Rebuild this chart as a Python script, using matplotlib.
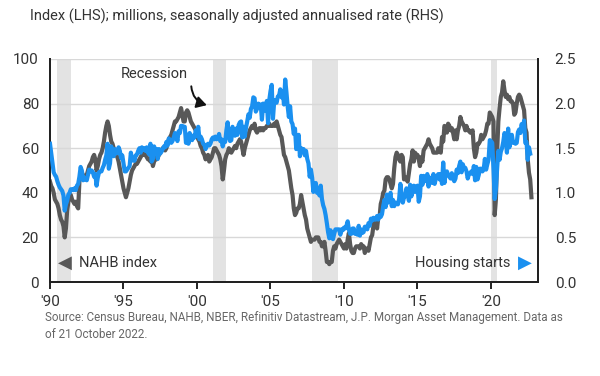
import numpy as np
import matplotlib
matplotlib.use("Agg")
import matplotlib.pyplot as plt
from matplotlib.patches import FancyArrowPatch

# ---------------- data ----------------
start_year = 1990
nahb = [
    45, 43, 42, 40, 37, 36, 35, 33, 30, 28, 27, 25,   # 1990
    20, 24, 32, 36, 38, 39, 37, 36, 35, 36, 34, 33,   # 1991
    45, 48, 49, 48, 47, 46, 48, 50, 52, 53, 54, 56,   # 1992
    57, 55, 50, 52, 55, 57, 58, 60, 63, 67, 70, 72,   # 1993
    70, 66, 63, 62, 60, 58, 57, 56, 54, 51, 48, 45,   # 1994
    42, 40, 38, 40, 42, 45, 48, 50, 51, 52, 53, 53,   # 1995
    54, 55, 56, 57, 58, 57, 57, 56, 55, 55, 54, 55,   # 1996
    52, 54, 56, 55, 56, 57, 58, 59, 60, 60, 59, 60,   # 1997
    62, 64, 65, 66, 68, 70, 72, 72, 73, 74, 76, 78,   # 1998
    75, 72, 72, 76, 77, 76, 74, 72, 71, 70, 69, 68,   # 1999
    66, 64, 63, 61, 60, 58, 57, 55, 56, 57, 54, 55,   # 2000
    56, 58, 60, 60, 59, 58, 57, 55, 52, 46, 50, 55,   # 2001
    57, 58, 60, 59, 58, 59, 60, 61, 60, 62, 63, 64,   # 2002
    63, 60, 57, 60, 62, 64, 66, 68, 69, 70, 69, 71,   # 2003
    68, 67, 68, 69, 68, 69, 68, 69, 69, 70, 70, 71,   # 2004
    70, 70, 70, 71, 70, 72, 70, 68, 66, 65, 61, 57,   # 2005
    56, 54, 52, 50, 46, 42, 39, 33, 30, 31, 33, 33,   # 2006
    35, 39, 36, 33, 30, 28, 24, 22, 20, 18, 19, 19,   # 2007
    19, 20, 20, 20, 18, 18, 16, 16, 18, 14, 9, 9,     # 2008
    8, 9, 9, 14, 16, 15, 17, 18, 19, 18, 17, 16,      # 2009
    15, 17, 15, 19, 22, 17, 14, 13, 13, 15, 16, 16,   # 2010
    16, 15, 17, 16, 16, 13, 15, 15, 14, 17, 20, 21,   # 2011
    25, 28, 28, 24, 29, 29, 35, 37, 40, 41, 46, 47,   # 2012
    47, 46, 44, 42, 44, 51, 56, 58, 57, 55, 54, 57,   # 2013
    56, 46, 47, 46, 45, 49, 53, 55, 59, 54, 58, 57,   # 2014
    57, 55, 52, 56, 54, 59, 60, 61, 62, 64, 62, 61,   # 2015
    60, 58, 58, 58, 58, 60, 59, 58, 65, 63, 70, 69,   # 2016
    67, 71, 70, 68, 69, 67, 64, 68, 64, 68, 70, 74,   # 2017
    72, 71, 70, 68, 70, 68, 68, 67, 67, 68, 60, 56,   # 2018
    58, 62, 62, 63, 66, 64, 65, 66, 68, 71, 71, 76,   # 2019
    75, 74, 72, 30, 37, 58, 72, 78, 83, 85, 90, 86,   # 2020
    83, 84, 82, 83, 81, 81, 80, 75, 76, 80, 83, 84,   # 2021
    83, 81, 79, 77, 69, 67, 55, 49, 46, 38,           # 2022
]
housing_starts = [
    1.55, 1.44, 1.32, 1.23, 1.20, 1.18, 1.13, 1.09, 1.06, 1.04, 1.02, 0.97,  # 1990
    0.80, 0.87, 0.91, 0.98, 1.00, 1.04, 1.04, 1.03, 1.05, 1.03, 1.08, 1.10,  # 1991
    1.18, 1.29, 1.25, 1.14, 1.17, 1.15, 1.14, 1.20, 1.26, 1.24, 1.25, 1.23,  # 1992
    1.18, 1.21, 1.08, 1.17, 1.23, 1.24, 1.24, 1.28, 1.31, 1.37, 1.42, 1.55,  # 1993
    1.27, 1.33, 1.52, 1.46, 1.41, 1.49, 1.44, 1.45, 1.51, 1.47, 1.39, 1.42,  # 1994
    1.33, 1.24, 1.24, 1.26, 1.28, 1.30, 1.45, 1.38, 1.36, 1.36, 1.42, 1.43,  # 1995
    1.47, 1.50, 1.45, 1.51, 1.48, 1.50, 1.47, 1.51, 1.45, 1.43, 1.55, 1.35,  # 1996
    1.38, 1.52, 1.46, 1.49, 1.38, 1.49, 1.44, 1.46, 1.49, 1.52, 1.51, 1.57,  # 1997
    1.53, 1.61, 1.58, 1.56, 1.58, 1.62, 1.67, 1.64, 1.58, 1.69, 1.67, 1.75,  # 1998
    1.75, 1.74, 1.74, 1.56, 1.65, 1.55, 1.67, 1.64, 1.59, 1.64, 1.62, 1.70,  # 1999
    1.64, 1.74, 1.60, 1.63, 1.60, 1.55, 1.54, 1.49, 1.53, 1.55, 1.53, 1.55,  # 2000
    1.60, 1.62, 1.60, 1.63, 1.60, 1.61, 1.66, 1.58, 1.60, 1.52, 1.59, 1.57,  # 2001
    1.70, 1.79, 1.64, 1.58, 1.59, 1.74, 1.66, 1.64, 1.72, 1.65, 1.76, 1.79,  # 2002
    1.80, 1.62, 1.74, 1.63, 1.73, 1.80, 1.88, 1.84, 1.94, 1.97, 2.07, 2.06,  # 2003
    1.91, 1.94, 2.00, 1.97, 1.99, 1.82, 2.00, 1.99, 1.92, 2.03, 1.78, 2.04,  # 2004
    2.14, 2.21, 1.83, 2.02, 2.04, 2.01, 2.08, 2.09, 2.16, 2.07, 2.14, 1.99,  # 2005
    2.27, 2.13, 1.97, 1.85, 1.97, 1.80, 1.77, 1.66, 1.72, 1.49, 1.57, 1.65,  # 2006
    1.41, 1.50, 1.49, 1.49, 1.42, 1.47, 1.38, 1.33, 1.18, 1.26, 1.17, 1.01,  # 2007
    1.07, 1.11, 1.00, 1.01, 0.97, 1.08, 0.93, 0.86, 0.82, 0.75, 0.66, 0.56,  # 2008
    0.49, 0.58, 0.52, 0.48, 0.54, 0.59, 0.59, 0.59, 0.59, 0.53, 0.59, 0.58,  # 2009
    0.61, 0.60, 0.63, 0.68, 0.59, 0.54, 0.54, 0.60, 0.60, 0.54, 0.55, 0.53,  # 2010
    0.63, 0.52, 0.59, 0.55, 0.56, 0.62, 0.62, 0.59, 0.66, 0.63, 0.71, 0.69,  # 2011
    0.72, 0.70, 0.70, 0.74, 0.70, 0.75, 0.73, 0.76, 0.85, 0.92, 0.84, 0.98,  # 2012
    0.89, 0.96, 1.00, 0.85, 0.92, 0.85, 0.89, 0.88, 0.87, 0.93, 1.10, 1.00,  # 2013
    0.89, 0.95, 0.96, 1.05, 0.98, 0.91, 1.09, 0.96, 1.03, 1.08, 1.01, 1.07,  # 2014
    1.08, 0.90, 0.96, 1.19, 1.09, 1.19, 1.15, 1.13, 1.21, 1.07, 1.17, 1.15,  # 2015
    1.11, 1.21, 1.10, 1.16, 1.19, 1.21, 1.15, 1.21, 1.10, 1.34, 1.11, 1.22,  # 2016
    1.24, 1.20, 1.18, 1.16, 1.22, 1.16, 1.13, 1.16, 1.26, 1.22, 1.30, 1.35,  # 2017
    1.23, 1.32, 1.27, 1.28, 1.24, 1.16, 1.21, 1.22, 1.24, 1.21, 1.30, 1.14,  # 2018
    1.29, 1.15, 1.20, 1.27, 1.27, 1.24, 1.26, 1.38, 1.26, 1.32, 1.37, 1.59,  # 2019
    1.58, 1.56, 1.28, 0.93, 1.04, 1.27, 1.47, 1.37, 1.46, 1.50, 1.57, 1.67,  # 2020
    1.63, 1.45, 1.72, 1.51, 1.59, 1.65, 1.56, 1.57, 1.55, 1.56, 1.68, 1.71,  # 2021
    1.67, 1.77, 1.72, 1.81, 1.56, 1.57, 1.37, 1.51, 1.44,                    # 2022
]
recessions = [(1990.45, 1991.4), (2001.1, 2002.0), (2007.8, 2009.6), (2020.0, 2020.4)]
x_ticks = [1990, 1995, 2000, 2005, 2010, 2015, 2020]
x_tick_labels = ["'90", "'95", "'00", "'05", "'10", "'15", "'20"]
left_ticks = [0, 20, 40, 60, 80, 100]
right_ticks = [0.0, 0.5, 1.0, 1.5, 2.0, 2.5]

t_nahb = start_year + np.arange(len(nahb)) / 12.0
t_hs = start_year + np.arange(len(housing_starts)) / 12.0

# ---------------- style ----------------
FONT = ["Roboto", "DejaVu Sans"]
plt.rcParams["font.family"] = FONT
GRAY = "#585858"
BLUE = "#1a90f0"
TXT = "#333333"

fig = plt.figure(figsize=(6.0, 3.76), dpi=100)
fig.patch.set_facecolor("white")
ax = fig.add_axes([50 / 600, 1 - 282 / 376, 488 / 600, 223 / 376])
ax2 = ax.twinx()

for a, b in recessions:
    ax.axvspan(a, b, color="#e3e3e3", lw=0, zorder=0)

ax.set_xlim(1990, 1990 + 488 / 14.7)
ax.set_ylim(0, 100)
ax2.set_ylim(0, 2.5)
ax.set_yticks(left_ticks)
ax2.set_yticks(right_ticks)
ax2.set_yticklabels([f"{v:.1f}" for v in right_ticks])
ax.set_xticks(x_ticks)
ax.set_xticklabels(x_tick_labels)
ax.yaxis.grid(True, color="#d8d8d8", lw=1.0, zorder=0)
ax.set_axisbelow(True)

ax.plot(t_nahb, nahb, color=GRAY, lw=3.0, solid_joinstyle="round", zorder=3)
ax2.plot(t_hs, housing_starts, color=BLUE, lw=3.0, solid_joinstyle="round", zorder=3)

for a in (ax, ax2):
    a.spines["top"].set_visible(False)
    for s in ("left", "right", "bottom"):
        a.spines[s].set_color("#222222")
        a.spines[s].set_linewidth(1.4)
    a.tick_params(axis="y", length=0, labelsize=11, labelcolor=TXT, pad=8)
ax.tick_params(axis="x", length=5, width=1.4, color="#222222", labelsize=11, labelcolor=TXT, pad=4)
ax2.tick_params(axis="y", pad=12)

# annotations
ax.text(1997.1, 93.3, "Recession", fontsize=10.5, color=TXT, ha="center", va="center", zorder=5)
arr = FancyArrowPatch((1999.6, 89.0), (2000.85, 79.0), connectionstyle="arc3,rad=0.4",
                      arrowstyle="-|>,head_length=6,head_width=3.5", color="#111111", lw=1.4, zorder=5)
ax.add_patch(arr)
ax.text(1991.0, 8.5, "\u25C0", fontsize=13, color=GRAY, ha="center", va="center", family=["DejaVu Sans"], zorder=5)
ax.text(1992.0, 8.5, "NAHB index", fontsize=10.5, color=TXT, ha="left", va="center", zorder=5)
ax.text(2021.3, 8.5, "Housing starts", fontsize=10.5, color=TXT, ha="right", va="center", zorder=5)
ax.text(2022.3, 8.5, "\u25B6", fontsize=13, color=BLUE, ha="center", va="center", family=["DejaVu Sans"], zorder=5)

fig.text(30 / 600, 1 - 16 / 376, "Index (LHS); millions, seasonally adjusted annualised rate (RHS)",
         fontsize=10.5, color=TXT, ha="left", va="center")
fig.text(45 / 600, 1 - 318 / 376,
         "Source: Census Bureau, NAHB, NBER, Refinitiv Datastream, J.P. Morgan Asset Management. Data as",
         fontsize=8.4, color="#666666", ha="left", va="center")
fig.text(45 / 600, 1 - 335 / 376, "of 21 October 2022.", fontsize=8.4, color="#666666", ha="left", va="center")

fig.savefig("out.png", dpi=100)
